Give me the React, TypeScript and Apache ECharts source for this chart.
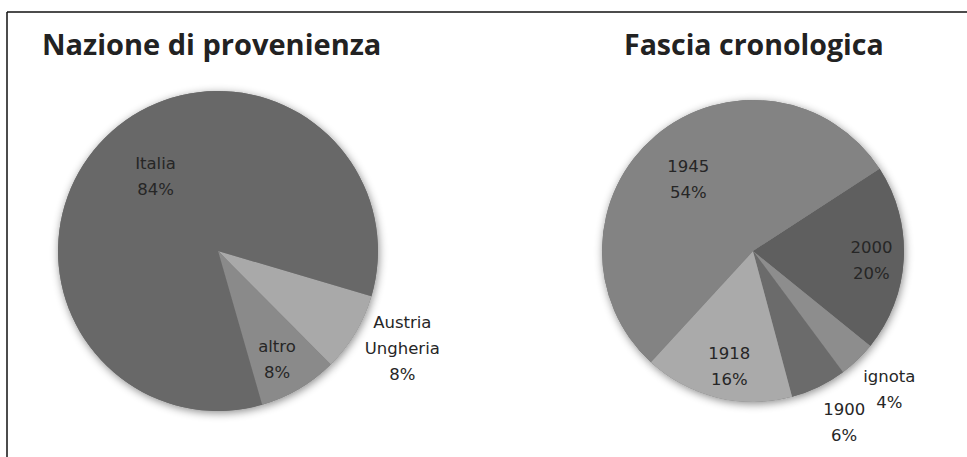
import React, { useEffect, useRef } from "react";
import * as echarts from "echarts";

// Left chart: Nazione di provenienza
const leftTitle = "Nazione di provenienza";
const leftCategories = ["Austria\nUngheria", "altro", "Italia"];
const leftValues = [8, 8, 84];

// Right chart: Fascia cronologica
const rightTitle = "Fascia cronologica";
const rightCategories = ["2000", "ignota", "1900", "1918", "1945"];
const rightValues = [20, 4, 6, 16, 54];

const leftColors: Record<string, string> = {
  "Austria\nUngheria": "#a9a9a9",
  altro: "#8a8a8a",
  Italia: "#686868",
};
const rightColors: Record<string, string> = {
  "2000": "#5f5f5f",
  ignota: "#8d8d8d",
  "1900": "#6b6b6b",
  "1918": "#aaaaaa",
  "1945": "#838383",
};
const labelOffsets: Record<string, [number, number]> = {
  "Austria\nUngheria": [113, 55],
  altro: [17, 37],
  Italia: [-4, -16],
  "2000": [40, 5],
  ignota: [82, 82],
  "1900": [57, 101],
  "1918": [-5, 39],
  "1945": [-14, -12],
};

const labelFont = {
  fontFamily: "DejaVu Sans",
  fontSize: 16.5,
  color: "#262626",
  lineHeight: 26,
};

function buildPie(
  names: string[],
  values: number[],
  colors: Record<string, string>,
  center: [number, number],
  radius: number,
  startAngle: number
) {
  const shadow = {
    type: "pie",
    silent: true,
    center,
    radius,
    startAngle,
    z: 1,
    label: { show: false },
    labelLine: { show: false },
    itemStyle: {
      color: "#777777",
      borderWidth: 0,
      shadowBlur: 8,
      shadowColor: "rgba(0,0,0,0.45)",
      shadowOffsetX: 1,
      shadowOffsetY: 2,
    },
    data: names.map((n, i) => ({ name: n, value: values[i] })),
  };
  const main = {
    type: "pie",
    center,
    radius,
    startAngle,
    clockwise: true,
    z: 2,
    percentPrecision: 0,
    avoidLabelOverlap: false,
    labelLayout: { hideOverlap: false },
    labelLine: { show: false },
    itemStyle: { borderWidth: 0 },
    emphasis: { disabled: true },
    data: names.map((n, i) => ({
      name: n,
      value: values[i],
      itemStyle: { color: colors[n] },
      label: {
        show: true,
        position: "inside",
        formatter: "{b}\n{d}%",
        offset: labelOffsets[n],
        align: "center",
        verticalAlign: "middle",
        ...labelFont,
      },
    })),
  };
  return [shadow, main];
}

export default function App() {
  const ref = useRef<HTMLDivElement>(null);
  useEffect(() => {
    if (!ref.current) return;
    const chart = echarts.init(ref.current, undefined, { renderer: "svg" });
    const titleStyle = {
      fontFamily: "Open Sans",
      fontWeight: "bold" as const,
      fontSize: 29,
      color: "#222222",
    };
    chart.setOption({
      animation: false,
      backgroundColor: "#ffffff",
      title: [
        { text: leftTitle, left: 42, top: 29, textStyle: { ...titleStyle, fontSize: 29 }, padding: 0 },
        { text: rightTitle, left: 624, top: 29, textStyle: { ...titleStyle, fontSize: 28.5 }, padding: 0 },
      ],
      graphic: [
        {
          type: "line",
          shape: { x1: 7, y1: 12, x2: 967, y2: 12 },
          style: { stroke: "#111111", lineWidth: 1.5 },
        },
        {
          type: "line",
          shape: { x1: 7, y1: 12, x2: 7, y2: 457 },
          style: { stroke: "#111111", lineWidth: 1.5 },
        },
      ],
      series: [
        ...buildPie(leftCategories, leftValues, leftColors, [218, 251], 160, -16.4),
        ...buildPie(rightCategories, rightValues, rightColors, [753, 251], 151, 33),
      ],
    });
    return () => chart.dispose();
  }, []);
  return (
    <div
      ref={ref}
      style={{ position: "absolute", left: 0, top: 0, width: 967, height: 457 }}
    />
  );
}
